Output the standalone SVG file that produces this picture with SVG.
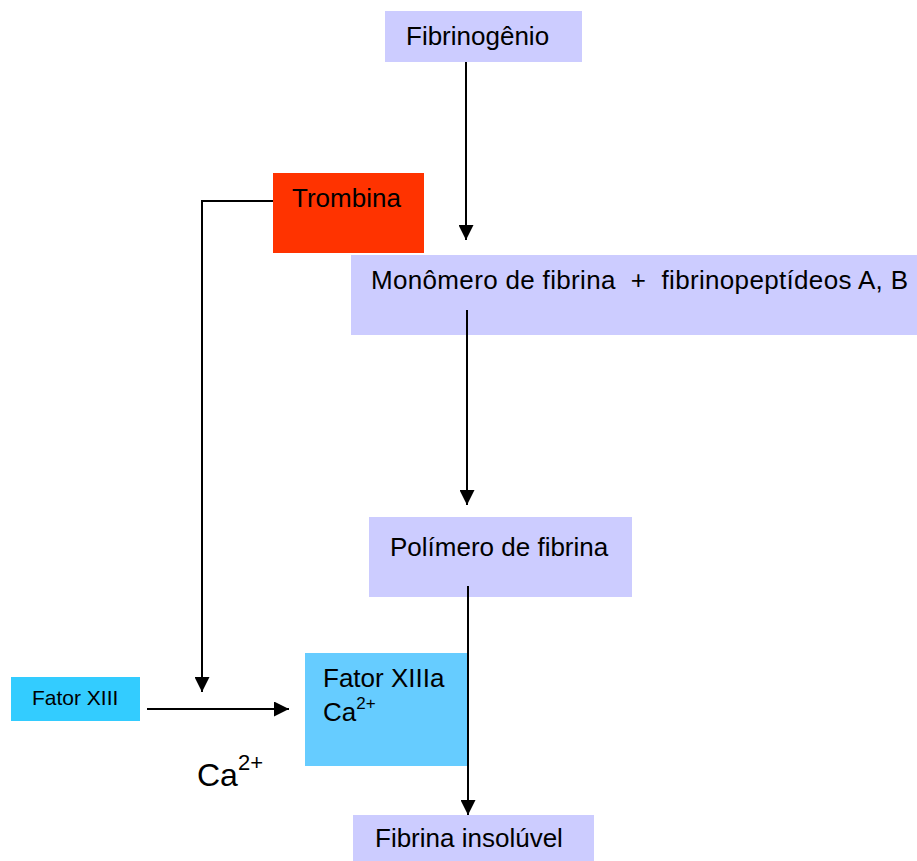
<svg xmlns="http://www.w3.org/2000/svg" width="917" height="861" viewBox="0 0 917 861">
<style>
text{font-family:"Liberation Sans",Arial,sans-serif;fill:#000}
.t{font-size:26px}
.c{stroke:#000;stroke-width:2;fill:none}
</style>
<defs>
<marker id="ah" markerWidth="15" markerHeight="15" refX="15" refY="7.5" orient="auto" markerUnits="userSpaceOnUse">
<path d="M0,0 L15,7.5 L0,15 Z" fill="#000"/>
</marker>
</defs>
<rect width="917" height="861" fill="#fff"/>
<g id="fibrinogenio">
<rect x="385" y="11" width="197" height="51" fill="#CCCCFF"/>
<text class="t" x="406" y="45">Fibrinogênio</text>
</g>
<g id="trombina">
<rect x="273" y="173" width="151" height="80" fill="#FF3300"/>
<text class="t" x="292" y="207">Trombina</text>
</g>
<g id="monomero">
<rect x="351" y="255" width="566" height="80" fill="#CCCCFF"/>
<text class="t" x="371" y="289" xml:space="preserve" textLength="537" lengthAdjust="spacing">Monômero de fibrina  +  fibrinopeptídeos A, B</text>
</g>
<g id="polimero">
<rect x="369" y="517" width="263" height="80" fill="#CCCCFF"/>
<text class="t" x="390" y="556">Polímero de fibrina</text>
</g>
<g id="fatorXIII">
<rect x="11" y="677" width="129" height="44" fill="#33CCFF"/>
<text x="32" y="705" font-size="21">Fator XIII</text>
</g>
<g id="fatorXIIIa">
<rect x="305" y="653" width="162" height="113" fill="#66CCFF"/>
<text class="t" x="323" y="687">Fator XIIIa</text>
<text class="t" x="323" y="721">Ca<tspan font-size="17" dy="-12">2+</tspan></text>
</g>
<g id="fibrinaInsoluvel">
<rect x="353" y="815" width="241" height="46" fill="#CCCCFF"/>
<text class="t" x="375" y="847">Fibrina insolúvel</text>
</g>
<g id="ca">
<text x="197" y="786" font-size="32">Ca<tspan font-size="22" dy="-16">2+</tspan></text>
</g>
<g id="connectors">
<line class="c" x1="466" y1="62" x2="466" y2="240" marker-end="url(#ah)"/>
<polyline class="c" points="273,201 202,201 202,692" marker-end="url(#ah)"/>
<line class="c" x1="467" y1="310" x2="467" y2="505" marker-end="url(#ah)"/>
<line class="c" x1="468" y1="586" x2="468" y2="815" marker-end="url(#ah)"/>
<line class="c" x1="147" y1="709" x2="289" y2="709" marker-end="url(#ah)"/>
</g>
</svg>
